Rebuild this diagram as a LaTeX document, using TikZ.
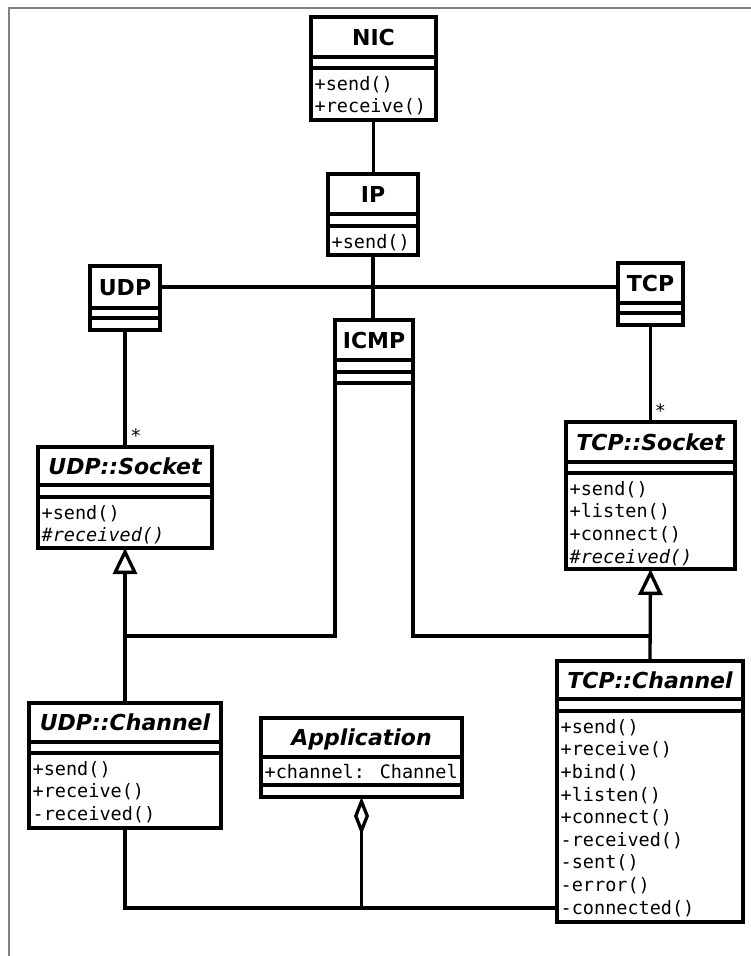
\documentclass[tikz,border=0pt]{standalone}
\usepackage{fontspec}
\newfontfamily\titlefont{DejaVu Sans}
\newfontfamily\opsfont{DejaVu Sans Mono}
\usetikzlibrary{arrows.meta}

\tikzset{
  classbox/.style={draw, line width=3.3pt, outer sep=0pt, inner sep=0pt, fill=white},
  sepline/.style={line width=3.3pt},
  classname/.style={font=\titlefont\bfseries\fontsize{22}{26}\selectfont, inner sep=0pt, anchor=base},
  abstractname/.style={classname, font=\titlefont\bfseries\itshape\fontsize{22}{26}\selectfont},
  members/.style={font=\opsfont\fontsize{18.5}{22.6}\selectfont, align=left, inner sep=0pt, anchor=north west},
  mult/.style={font=\opsfont\fontsize{18.5}{22}\selectfont, inner sep=0pt, anchor=base},
  link/.style={line width=3.3pt},
  inherit/.style={-{Triangle[open, length=26pt, width=24pt]}},
  aggreg/.style={-{Diamond[open, length=38pt, width=15pt]}},
  frame/.style={draw=black!50, line width=1.8pt},
}

% class box: name, x1, y1, x2, y2, first separator, second separator
\newcommand\umlclass[7]{%
  \node[classbox, minimum width={#4-#2}, minimum height={#5-#3}] (#1) at ({(#2+#4)/2},{(#3+#5)/2}) {};
  \draw[sepline] (#2,#6) -- (#4,#6);
  \draw[sepline] (#2,#7) -- (#4,#7);
}

\begin{document}
\begin{tikzpicture}[x=1pt, y=-1pt]
  \fill[white] (0,0) rectangle (751,956);
  \useasboundingbox (0,0) rectangle (751,956);
  \draw[frame] (9,957) -- (9,8) -- (752,8);

  % classes
  \umlclass{nic}{311}{17}{436}{120}{57}{68}
  \node[classname] (nic-name) at (373.5,45) {NIC};
  \node[members] (nic-ops) at (314.5,76) {+send()\\+receive()};

  \umlclass{ip}{328}{174}{418}{255}{214}{226}
  \node[classname] (ip-name) at (373,202) {IP};
  \node[members] (ip-ops) at (331.5,234) {+send()};

  \umlclass{udp}{90}{266}{160}{330}{308}{318}
  \node[classname] (udp-name) at (125,295) {UDP};

  \umlclass{tcp}{618}{263}{683}{325}{303}{313}
  \node[classname] (tcp-name) at (650.5,291) {TCP};

  \umlclass{icmp}{335}{320}{413}{383}{360}{372}
  \node[classname] (icmp-name) at (374,348) {ICMP};

  \umlclass{udpsock}{38}{447}{212}{548}{485}{497}
  \node[abstractname] (udpsock-name) at (125,474) {UDP::Socket};
  \node[members] (udpsock-ops) at (41.5,505) {+send()\\\textit{\#received()}};

  \umlclass{tcpsock}{566}{422}{735}{569}{462}{473}
  \node[abstractname] (tcpsock-name) at (650.5,450) {TCP::Socket};
  \node[members] (tcpsock-ops) at (569.5,481)
    {+send()\\+listen()\\+connect()\\\textit{\#received()}};

  \umlclass{udpchan}{29}{703}{221}{828}{742}{753}
  \node[abstractname] (udpchan-name) at (125,730.5) {UDP::Channel};
  \node[members] (udpchan-ops) at (32.5,761) {+send()\\+receive()\\-received()};

  \umlclass{app}{261}{718}{462}{797}{757}{785}
  \node[abstractname] (app-name) at (361.5,745.5) {Application};
  \node[members] (app-attr) at (264.5,764.5) {+channel: Channel};

  \umlclass{tcpchan}{557}{661}{743}{922}{699}{711}
  \node[abstractname] (tcpchan-name) at (650,688) {TCP::Channel};
  \node[members] (tcpchan-ops) at (560.5,719)
    {+send()\\+receive()\\+bind()\\+listen()\\+connect()\\-received()\\-sent()\\-error()\\-connected()};

  % junction points
  \coordinate (ipjoin) at (ip.south |- 0,287);
  \coordinate (ujoin) at (udpsock.south |- 0,636);
  \coordinate (tjoin) at (tcpsock.south |- 0,636);
  \coordinate (bus) at (app.south |- 0,908);

  % associations
  \draw[link] (nic.south) -- (nic.south |- ip.north);
  \draw[link] (ip.south) -- (ip.south |- icmp.north);
  \draw[link] (udp.east |- ipjoin) -- (tcp.west |- ipjoin);
  \draw[link] (udp.south) -- (udpsock.north)
    node[mult, xshift=11pt, yshift=4.3pt] (udpmult) {*};
  \draw[link] (tcp.south) -- (tcpsock.north)
    node[mult, xshift=10pt, yshift=4.3pt] (tcpmult) {*};

  % generalizations
  \draw[link, inherit] (udpchan.north) -- (udpsock.south);
  \draw[link, inherit] (tcpchan.north) -- (tcpsock.south);
  \draw[link] (icmp.south west) -- (icmp.south west |- ujoin) -- (ujoin);
  \draw[link] (icmp.south east) -- (icmp.south east |- tjoin) -- (tjoin);

  % aggregation of the channels in the application
  \draw[link] (udpchan.south) |- (tcpchan.west |- bus);
  \draw[link, aggreg] (bus) -- (app.south);
\end{tikzpicture}
\end{document}
